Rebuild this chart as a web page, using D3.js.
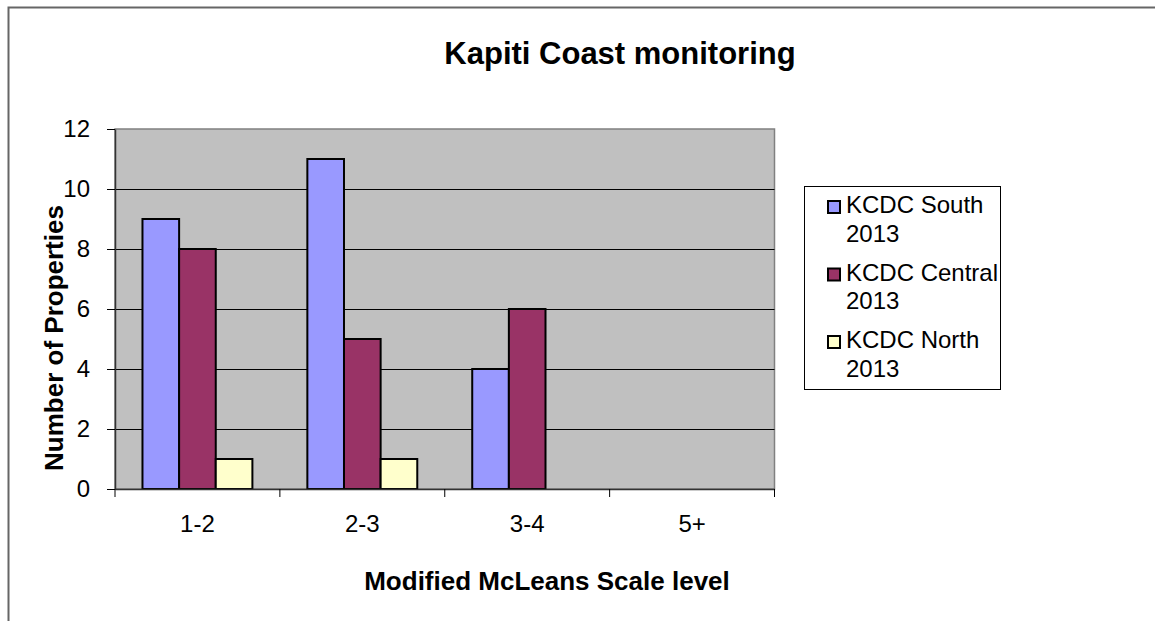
<!DOCTYPE html>
<html>
<head>
<meta charset="utf-8">
<script src="https://cdn.jsdelivr.net/npm/d3@7"></script>
<style>
  body { margin: 0; background: #fff; }
  text { font-family: "Liberation Sans", Arial, sans-serif; fill: #000; }
</style>
</head>
<body>
<div id="chart"></div>
<script>
// chart data
const categories = ["1-2", "2-3", "3-4", "5+"]
const seriesNames = ["KCDC South 2013", "KCDC Central 2013", "KCDC North 2013"]
const southValues = [9, 11, 4, 0]
const centralValues = [8, 5, 6, 0]
const northValues = [1, 1, 0, 0]
const yTicks = [0, 2, 4, 6, 8, 10, 12]

const seriesValues = [southValues, centralValues, northValues]
const colors = ["#9999FF", "#993366", "#FFFFCC"]

let width = 1155
let height = 621
let plot = { left: 115, top: 129, right: 774.5, bottom: 489 }

var svg = d3.select("#chart")
    .append("svg")
    .attr("width", width)
    .attr("height", height)

// outer frame (only left and top are visible)
svg.append("path")
    .attr("d", `M8.5,${height} L8.5,7.5 L${width},7.5`)
    .attr("fill", "none")
    .attr("stroke", "#666")
    .attr("stroke-width", 2)

var x = d3.scaleBand()
    .domain(categories)
    .range([plot.left, plot.right])

var y = d3.scaleLinear()
    .domain([0, 12])
    .range([plot.bottom, plot.top])

// plot background
svg.append("rect")
    .attr("x", plot.left)
    .attr("y", plot.top)
    .attr("width", plot.right - plot.left)
    .attr("height", plot.bottom - plot.top)
    .attr("fill", "#C0C0C0")
    .attr("stroke", "#808080")
    .attr("stroke-width", 1.5)

// gridlines
svg.selectAll("line.grid")
    .data(yTicks.filter(d => d > 0 && d < 12))
    .enter()
    .append("line")
    .attr("x1", plot.left)
    .attr("x2", plot.right)
    .attr("y1", d => y(d) + 0.5)
    .attr("y2", d => y(d) + 0.5)
    .attr("stroke", "#000")
    .attr("stroke-width", 1)

// bars: gap width 150% of bar width
let barWidth = x.bandwidth() / 4.5
let groupOffset = barWidth * 0.75

seriesValues.forEach((values, si) => {
    svg.selectAll(null)
        .data(values.map((v, i) => ({ cat: categories[i], value: v })).filter(d => d.value > 0))
        .enter()
        .append("rect")
        .attr("x", d => x(d.cat) + groupOffset + si * barWidth)
        .attr("y", d => y(d.value))
        .attr("width", barWidth)
        .attr("height", d => y(0) - y(d.value))
        .attr("fill", colors[si])
        .attr("stroke", "#000")
        .attr("stroke-width", 2)
})

// axes
var yAxis = svg.append("g")
    .attr("transform", `translate(${plot.left},0)`)
    .call(d3.axisLeft(y).tickValues(yTicks).tickSize(8).tickPadding(17).tickSizeOuter(0))
yAxis.select(".domain").attr("stroke", "#333").attr("stroke-width", 1.5)
yAxis.selectAll(".tick line").attr("stroke", "#000")
yAxis.selectAll(".tick text")
    .style("font-size", "24px")
    .style("font-family", "Liberation Sans, Arial, sans-serif")
    .attr("fill", "#000")

var xAxis = svg.append("g")
    .attr("transform", `translate(0,${plot.bottom})`)
    .call(d3.axisBottom(x).tickSize(0).tickPadding(26))
xAxis.select(".domain").attr("stroke", "#333").attr("stroke-width", 1.5)
xAxis.selectAll(".tick text")
    .style("font-size", "24px")
    .style("font-family", "Liberation Sans, Arial, sans-serif")
    .attr("fill", "#000")

// x ticks at category boundaries
svg.selectAll(null)
    .data(d3.range(categories.length + 1))
    .enter()
    .append("line")
    .attr("x1", i => plot.left + i * x.step())
    .attr("x2", i => plot.left + i * x.step())
    .attr("y1", plot.bottom)
    .attr("y2", plot.bottom + 8)
    .attr("stroke", "#000")

// titles
svg.append("text")
    .attr("x", 620)
    .attr("y", 64)
    .attr("text-anchor", "middle")
    .style("font-size", "31px")
    .style("font-weight", "bold")
    .text("Kapiti Coast monitoring")

svg.append("text")
    .attr("transform", `translate(63,338) rotate(-90)`)
    .attr("text-anchor", "middle")
    .style("font-size", "26px")
    .style("font-weight", "bold")
    .text("Number of Properties")

svg.append("text")
    .attr("x", 547)
    .attr("y", 590)
    .attr("text-anchor", "middle")
    .style("font-size", "26px")
    .style("font-weight", "bold")
    .text("Modified McLeans Scale level")

// legend
const legend = svg.append("g")

legend.append("rect")
    .attr("x", 804.5)
    .attr("y", 186.5)
    .attr("width", 196)
    .attr("height", 203)
    .attr("fill", "#fff")
    .attr("stroke", "#000")

seriesNames.forEach((name, i) => {
    let top = 201 + i * 67.5
    legend.append("rect")
        .attr("x", 828)
        .attr("y", top)
        .attr("width", 12)
        .attr("height", 12)
        .attr("fill", colors[i])
        .attr("stroke", "#000")
        .attr("stroke-width", 2)
    let words = name.split(" ")
    let t = legend.append("text")
        .attr("x", 846)
        .attr("y", top + 12)
        .style("font-size", "24px")
    t.append("tspan").text(words.slice(0, 2).join(" "))
    t.append("tspan").attr("x", 846).attr("dy", 28.5).text(words[2])
})
</script>
</body>
</html>
